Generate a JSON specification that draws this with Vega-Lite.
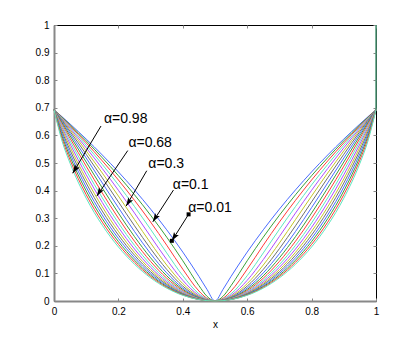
{
"$schema": "https://vega.github.io/schema/vega-lite/v6.json",
"width": 322, "height": 276,
"autosize": {"type": "none"},
"padding": {"left": 54, "top": 25, "right": 39, "bottom": 39},
"background": "#ffffff",
"config": {
 "view": {"stroke": "#000000", "strokeWidth": 1},
 "font": "Liberation Sans",
 "axis": {"labelFont": "Liberation Sans", "labelFontSize": 10, "labelColor": "#000000", "tickColor": "#888888", "grid": false, "domainColor": "#888888", "domainWidth": 2, "labelFlush": false, "labelOverlap": false}
},
"datasets": {
 "c": [
{"k":1,"x":0,"y":0.6931},{"k":1,"x":0.025,"y":0.6676},{"k":1,"x":0.05,"y":0.6413},{"k":1,"x":0.1,"y":0.5867},{"k":1,"x":0.15,"y":0.529},{"k":1,"x":0.2,"y":0.4678},{"k":1,"x":0.25,"y":0.4026},{"k":1,"x":0.3,"y":0.3329},{"k":1,"x":0.35,"y":0.258},{"k":1,"x":0.4,"y":0.1772},{"k":1,"x":0.45,"y":0.0893},{"k":1,"x":0.475,"y":0.0423},{"k":1,"x":0.5,"y":0},{"k":1,"x":0.525,"y":0.0423},{"k":1,"x":0.55,"y":0.0893},{"k":1,"x":0.6,"y":0.1772},{"k":1,"x":0.65,"y":0.258},{"k":1,"x":0.7,"y":0.3329},{"k":1,"x":0.75,"y":0.4026},{"k":1,"x":0.8,"y":0.4678},{"k":1,"x":0.85,"y":0.529},{"k":1,"x":0.9,"y":0.5867},{"k":1,"x":0.95,"y":0.6413},{"k":1,"x":0.975,"y":0.6676},{"k":1,"x":1,"y":0.6931},
{"k":2,"x":0,"y":0.6931},{"k":2,"x":0.025,"y":0.666},{"k":2,"x":0.05,"y":0.6382},{"k":2,"x":0.1,"y":0.5802},{"k":2,"x":0.15,"y":0.519},{"k":2,"x":0.2,"y":0.454},{"k":2,"x":0.25,"y":0.3848},{"k":2,"x":0.3,"y":0.3108},{"k":2,"x":0.35,"y":0.2314},{"k":2,"x":0.4,"y":0.1458},{"k":2,"x":0.45,"y":0.0559},{"k":2,"x":0.475,"y":0.0171},{"k":2,"x":0.5,"y":0},{"k":2,"x":0.525,"y":0.0171},{"k":2,"x":0.55,"y":0.0559},{"k":2,"x":0.6,"y":0.1458},{"k":2,"x":0.65,"y":0.2314},{"k":2,"x":0.7,"y":0.3108},{"k":2,"x":0.75,"y":0.3848},{"k":2,"x":0.8,"y":0.454},{"k":2,"x":0.85,"y":0.519},{"k":2,"x":0.9,"y":0.5802},{"k":2,"x":0.95,"y":0.6382},{"k":2,"x":0.975,"y":0.666},{"k":2,"x":1,"y":0.6931},
{"k":3,"x":0,"y":0.6931},{"k":3,"x":0.025,"y":0.6642},{"k":3,"x":0.05,"y":0.6346},{"k":3,"x":0.1,"y":0.5729},{"k":3,"x":0.15,"y":0.5076},{"k":3,"x":0.2,"y":0.4384},{"k":3,"x":0.25,"y":0.3647},{"k":3,"x":0.3,"y":0.2861},{"k":3,"x":0.35,"y":0.2023},{"k":3,"x":0.4,"y":0.1152},{"k":3,"x":0.45,"y":0.0363},{"k":3,"x":0.475,"y":0.0098},{"k":3,"x":0.5,"y":0},{"k":3,"x":0.525,"y":0.0098},{"k":3,"x":0.55,"y":0.0363},{"k":3,"x":0.6,"y":0.1152},{"k":3,"x":0.65,"y":0.2023},{"k":3,"x":0.7,"y":0.2861},{"k":3,"x":0.75,"y":0.3647},{"k":3,"x":0.8,"y":0.4384},{"k":3,"x":0.85,"y":0.5076},{"k":3,"x":0.9,"y":0.5729},{"k":3,"x":0.95,"y":0.6346},{"k":3,"x":0.975,"y":0.6642},{"k":3,"x":1,"y":0.6931},
{"k":4,"x":0,"y":0.6931},{"k":4,"x":0.025,"y":0.6622},{"k":4,"x":0.05,"y":0.6305},{"k":4,"x":0.1,"y":0.5645},{"k":4,"x":0.15,"y":0.4947},{"k":4,"x":0.2,"y":0.4207},{"k":4,"x":0.25,"y":0.3423},{"k":4,"x":0.3,"y":0.2596},{"k":4,"x":0.35,"y":0.1742},{"k":4,"x":0.4,"y":0.0917},{"k":4,"x":0.45,"y":0.0262},{"k":4,"x":0.5,"y":0},{"k":4,"x":0.55,"y":0.0262},{"k":4,"x":0.6,"y":0.0917},{"k":4,"x":0.65,"y":0.1742},{"k":4,"x":0.7,"y":0.2596},{"k":4,"x":0.75,"y":0.3423},{"k":4,"x":0.8,"y":0.4207},{"k":4,"x":0.85,"y":0.4947},{"k":4,"x":0.9,"y":0.5645},{"k":4,"x":0.95,"y":0.6305},{"k":4,"x":0.975,"y":0.6622},{"k":4,"x":1,"y":0.6931},
{"k":5,"x":0,"y":0.6931},{"k":5,"x":0.025,"y":0.6599},{"k":5,"x":0.05,"y":0.6258},{"k":5,"x":0.1,"y":0.5549},{"k":5,"x":0.15,"y":0.48},{"k":5,"x":0.2,"y":0.4011},{"k":5,"x":0.25,"y":0.3186},{"k":5,"x":0.3,"y":0.2337},{"k":5,"x":0.35,"y":0.1501},{"k":5,"x":0.4,"y":0.0749},{"k":5,"x":0.45,"y":0.0204},{"k":5,"x":0.5,"y":0},{"k":5,"x":0.55,"y":0.0204},{"k":5,"x":0.6,"y":0.0749},{"k":5,"x":0.65,"y":0.1501},{"k":5,"x":0.7,"y":0.2337},{"k":5,"x":0.75,"y":0.3186},{"k":5,"x":0.8,"y":0.4011},{"k":5,"x":0.85,"y":0.48},{"k":5,"x":0.9,"y":0.5549},{"k":5,"x":0.95,"y":0.6258},{"k":5,"x":0.975,"y":0.6599},{"k":5,"x":1,"y":0.6931},
{"k":6,"x":0,"y":0.6931},{"k":6,"x":0.025,"y":0.6572},{"k":6,"x":0.05,"y":0.6204},{"k":6,"x":0.1,"y":0.5439},{"k":6,"x":0.15,"y":0.4637},{"k":6,"x":0.2,"y":0.3803},{"k":6,"x":0.25,"y":0.295},{"k":6,"x":0.3,"y":0.2101},{"k":6,"x":0.35,"y":0.1304},{"k":6,"x":0.4,"y":0.0629},{"k":6,"x":0.45,"y":0.0166},{"k":6,"x":0.5,"y":0},{"k":6,"x":0.55,"y":0.0166},{"k":6,"x":0.6,"y":0.0629},{"k":6,"x":0.65,"y":0.1304},{"k":6,"x":0.7,"y":0.2101},{"k":6,"x":0.75,"y":0.295},{"k":6,"x":0.8,"y":0.3803},{"k":6,"x":0.85,"y":0.4637},{"k":6,"x":0.9,"y":0.5439},{"k":6,"x":0.95,"y":0.6204},{"k":6,"x":0.975,"y":0.6572},{"k":6,"x":1,"y":0.6931},
{"k":7,"x":0,"y":0.6931},{"k":7,"x":0.025,"y":0.6541},{"k":7,"x":0.05,"y":0.6141},{"k":7,"x":0.1,"y":0.5315},{"k":7,"x":0.15,"y":0.4462},{"k":7,"x":0.2,"y":0.3591},{"k":7,"x":0.25,"y":0.2725},{"k":7,"x":0.3,"y":0.1895},{"k":7,"x":0.35,"y":0.1146},{"k":7,"x":0.4,"y":0.054},{"k":7,"x":0.45,"y":0.014},{"k":7,"x":0.5,"y":0},{"k":7,"x":0.55,"y":0.014},{"k":7,"x":0.6,"y":0.054},{"k":7,"x":0.65,"y":0.1146},{"k":7,"x":0.7,"y":0.1895},{"k":7,"x":0.75,"y":0.2725},{"k":7,"x":0.8,"y":0.3591},{"k":7,"x":0.85,"y":0.4462},{"k":7,"x":0.9,"y":0.5315},{"k":7,"x":0.95,"y":0.6141},{"k":7,"x":0.975,"y":0.6541},{"k":7,"x":1,"y":0.6931},
{"k":8,"x":0,"y":0.6931},{"k":8,"x":0.025,"y":0.6504},{"k":8,"x":0.05,"y":0.6068},{"k":8,"x":0.1,"y":0.518},{"k":8,"x":0.15,"y":0.4279},{"k":8,"x":0.2,"y":0.3384},{"k":8,"x":0.25,"y":0.2519},{"k":8,"x":0.3,"y":0.1716},{"k":8,"x":0.35,"y":0.1019},{"k":8,"x":0.4,"y":0.0472},{"k":8,"x":0.45,"y":0.0121},{"k":8,"x":0.5,"y":0},{"k":8,"x":0.55,"y":0.0121},{"k":8,"x":0.6,"y":0.0472},{"k":8,"x":0.65,"y":0.1019},{"k":8,"x":0.7,"y":0.1716},{"k":8,"x":0.75,"y":0.2519},{"k":8,"x":0.8,"y":0.3384},{"k":8,"x":0.85,"y":0.4279},{"k":8,"x":0.9,"y":0.518},{"k":8,"x":0.95,"y":0.6068},{"k":8,"x":0.975,"y":0.6504},{"k":8,"x":1,"y":0.6931},
{"k":9,"x":0,"y":0.6931},{"k":9,"x":0.025,"y":0.646},{"k":9,"x":0.05,"y":0.5986},{"k":9,"x":0.1,"y":0.5035},{"k":9,"x":0.15,"y":0.4095},{"k":9,"x":0.2,"y":0.3186},{"k":9,"x":0.25,"y":0.2332},{"k":9,"x":0.3,"y":0.1564},{"k":9,"x":0.35,"y":0.0914},{"k":9,"x":0.4,"y":0.0419},{"k":9,"x":0.45,"y":0.0107},{"k":9,"x":0.5,"y":0},{"k":9,"x":0.55,"y":0.0107},{"k":9,"x":0.6,"y":0.0419},{"k":9,"x":0.65,"y":0.0914},{"k":9,"x":0.7,"y":0.1564},{"k":9,"x":0.75,"y":0.2332},{"k":9,"x":0.8,"y":0.3186},{"k":9,"x":0.85,"y":0.4095},{"k":9,"x":0.9,"y":0.5035},{"k":9,"x":0.95,"y":0.5986},{"k":9,"x":0.975,"y":0.646},{"k":9,"x":1,"y":0.6931},
{"k":10,"x":0,"y":0.6931},{"k":10,"x":0.025,"y":0.641},{"k":10,"x":0.05,"y":0.5894},{"k":10,"x":0.1,"y":0.4884},{"k":10,"x":0.15,"y":0.3913},{"k":10,"x":0.2,"y":0.3},{"k":10,"x":0.25,"y":0.2165},{"k":10,"x":0.3,"y":0.1433},{"k":10,"x":0.35,"y":0.0828},{"k":10,"x":0.4,"y":0.0376},{"k":10,"x":0.45,"y":0.0095},{"k":10,"x":0.5,"y":0},{"k":10,"x":0.55,"y":0.0095},{"k":10,"x":0.6,"y":0.0376},{"k":10,"x":0.65,"y":0.0828},{"k":10,"x":0.7,"y":0.1433},{"k":10,"x":0.75,"y":0.2165},{"k":10,"x":0.8,"y":0.3},{"k":10,"x":0.85,"y":0.3913},{"k":10,"x":0.9,"y":0.4884},{"k":10,"x":0.95,"y":0.5894},{"k":10,"x":0.975,"y":0.641},{"k":10,"x":1,"y":0.6931},
{"k":11,"x":0,"y":0.6931},{"k":11,"x":0.025,"y":0.6353},{"k":11,"x":0.05,"y":0.5795},{"k":11,"x":0.1,"y":0.4731},{"k":11,"x":0.15,"y":0.3737},{"k":11,"x":0.2,"y":0.2827},{"k":11,"x":0.25,"y":0.2016},{"k":11,"x":0.3,"y":0.132},{"k":11,"x":0.35,"y":0.0756},{"k":11,"x":0.4,"y":0.0341},{"k":11,"x":0.45,"y":0.0086},{"k":11,"x":0.5,"y":0},{"k":11,"x":0.55,"y":0.0086},{"k":11,"x":0.6,"y":0.0341},{"k":11,"x":0.65,"y":0.0756},{"k":11,"x":0.7,"y":0.132},{"k":11,"x":0.75,"y":0.2016},{"k":11,"x":0.8,"y":0.2827},{"k":11,"x":0.85,"y":0.3737},{"k":11,"x":0.9,"y":0.4731},{"k":11,"x":0.95,"y":0.5795},{"k":11,"x":0.975,"y":0.6353},{"k":11,"x":1,"y":0.6931},
{"k":12,"x":0,"y":0.6931},{"k":12,"x":0.025,"y":0.6289},{"k":12,"x":0.05,"y":0.5689},{"k":12,"x":0.1,"y":0.4576},{"k":12,"x":0.15,"y":0.3569},{"k":12,"x":0.2,"y":0.2668},{"k":12,"x":0.25,"y":0.1883},{"k":12,"x":0.3,"y":0.1222},{"k":12,"x":0.35,"y":0.0695},{"k":12,"x":0.4,"y":0.0312},{"k":12,"x":0.45,"y":0.0078},{"k":12,"x":0.5,"y":0},{"k":12,"x":0.55,"y":0.0078},{"k":12,"x":0.6,"y":0.0312},{"k":12,"x":0.65,"y":0.0695},{"k":12,"x":0.7,"y":0.1222},{"k":12,"x":0.75,"y":0.1883},{"k":12,"x":0.8,"y":0.2668},{"k":12,"x":0.85,"y":0.3569},{"k":12,"x":0.9,"y":0.4576},{"k":12,"x":0.95,"y":0.5689},{"k":12,"x":0.975,"y":0.6289},{"k":12,"x":1,"y":0.6931},
{"k":13,"x":0,"y":0.6931},{"k":13,"x":0.025,"y":0.6219},{"k":13,"x":0.05,"y":0.5578},{"k":13,"x":0.1,"y":0.4423},{"k":13,"x":0.15,"y":0.3409},{"k":13,"x":0.2,"y":0.2523},{"k":13,"x":0.25,"y":0.1765},{"k":13,"x":0.3,"y":0.1137},{"k":13,"x":0.35,"y":0.0643},{"k":13,"x":0.4,"y":0.0287},{"k":13,"x":0.45,"y":0.0072},{"k":13,"x":0.5,"y":0},{"k":13,"x":0.55,"y":0.0072},{"k":13,"x":0.6,"y":0.0287},{"k":13,"x":0.65,"y":0.0643},{"k":13,"x":0.7,"y":0.1137},{"k":13,"x":0.75,"y":0.1765},{"k":13,"x":0.8,"y":0.2523},{"k":13,"x":0.85,"y":0.3409},{"k":13,"x":0.9,"y":0.4423},{"k":13,"x":0.95,"y":0.5578},{"k":13,"x":0.975,"y":0.6219},{"k":13,"x":1,"y":0.6931},
{"k":14,"x":0,"y":0.6931},{"k":14,"x":0.025,"y":0.6142},{"k":14,"x":0.05,"y":0.5462},{"k":14,"x":0.1,"y":0.4274},{"k":14,"x":0.15,"y":0.3258},{"k":14,"x":0.2,"y":0.2389},{"k":14,"x":0.25,"y":0.1659},{"k":14,"x":0.3,"y":0.1062},{"k":14,"x":0.35,"y":0.0598},{"k":14,"x":0.4,"y":0.0266},{"k":14,"x":0.45,"y":0.0067},{"k":14,"x":0.5,"y":0},{"k":14,"x":0.55,"y":0.0067},{"k":14,"x":0.6,"y":0.0266},{"k":14,"x":0.65,"y":0.0598},{"k":14,"x":0.7,"y":0.1062},{"k":14,"x":0.75,"y":0.1659},{"k":14,"x":0.8,"y":0.2389},{"k":14,"x":0.85,"y":0.3258},{"k":14,"x":0.9,"y":0.4274},{"k":14,"x":0.95,"y":0.5462},{"k":14,"x":0.975,"y":0.6142},{"k":14,"x":1,"y":0.6931},
{"k":15,"x":0,"y":0.6931},{"k":15,"x":0.025,"y":0.6061},{"k":15,"x":0.05,"y":0.5344},{"k":15,"x":0.1,"y":0.4129},{"k":15,"x":0.15,"y":0.3116},{"k":15,"x":0.2,"y":0.2268},{"k":15,"x":0.25,"y":0.1565},{"k":15,"x":0.3,"y":0.0997},{"k":15,"x":0.35,"y":0.0558},{"k":15,"x":0.4,"y":0.0248},{"k":15,"x":0.45,"y":0.0062},{"k":15,"x":0.5,"y":0},{"k":15,"x":0.55,"y":0.0062},{"k":15,"x":0.6,"y":0.0248},{"k":15,"x":0.65,"y":0.0558},{"k":15,"x":0.7,"y":0.0997},{"k":15,"x":0.75,"y":0.1565},{"k":15,"x":0.8,"y":0.2268},{"k":15,"x":0.85,"y":0.3116},{"k":15,"x":0.9,"y":0.4129},{"k":15,"x":0.95,"y":0.5344},{"k":15,"x":0.975,"y":0.6061},{"k":15,"x":1,"y":0.6931},
{"k":16,"x":0,"y":0.6931},{"k":16,"x":0.025,"y":0.5975},{"k":16,"x":0.05,"y":0.5225},{"k":16,"x":0.1,"y":0.3988},{"k":16,"x":0.15,"y":0.2984},{"k":16,"x":0.2,"y":0.2155},{"k":16,"x":0.25,"y":0.1479},{"k":16,"x":0.3,"y":0.0937},{"k":16,"x":0.35,"y":0.0524},{"k":16,"x":0.4,"y":0.0233},{"k":16,"x":0.45,"y":0.0058},{"k":16,"x":0.5,"y":0},{"k":16,"x":0.55,"y":0.0058},{"k":16,"x":0.6,"y":0.0233},{"k":16,"x":0.65,"y":0.0524},{"k":16,"x":0.7,"y":0.0937},{"k":16,"x":0.75,"y":0.1479},{"k":16,"x":0.8,"y":0.2155},{"k":16,"x":0.85,"y":0.2984},{"k":16,"x":0.9,"y":0.3988},{"k":16,"x":0.95,"y":0.5225},{"k":16,"x":0.975,"y":0.5975},{"k":16,"x":1,"y":0.6931},
{"k":17,"x":0,"y":0.6931},{"k":17,"x":0.025,"y":0.5887},{"k":17,"x":0.05,"y":0.5106},{"k":17,"x":0.1,"y":0.3852},{"k":17,"x":0.15,"y":0.2856},{"k":17,"x":0.2,"y":0.2052},{"k":17,"x":0.25,"y":0.1403},{"k":17,"x":0.3,"y":0.0885},{"k":17,"x":0.35,"y":0.0493},{"k":17,"x":0.4,"y":0.0219},{"k":17,"x":0.45,"y":0.0055},{"k":17,"x":0.5,"y":0},{"k":17,"x":0.55,"y":0.0055},{"k":17,"x":0.6,"y":0.0219},{"k":17,"x":0.65,"y":0.0493},{"k":17,"x":0.7,"y":0.0885},{"k":17,"x":0.75,"y":0.1403},{"k":17,"x":0.8,"y":0.2052},{"k":17,"x":0.85,"y":0.2856},{"k":17,"x":0.9,"y":0.3852},{"k":17,"x":0.95,"y":0.5106},{"k":17,"x":0.975,"y":0.5887},{"k":17,"x":1,"y":0.6931},
{"k":18,"x":0,"y":0.6931},{"k":18,"x":0.025,"y":0.5796},{"k":18,"x":0.05,"y":0.4988},{"k":18,"x":0.1,"y":0.3725},{"k":18,"x":0.15,"y":0.2744},{"k":18,"x":0.2,"y":0.1959},{"k":18,"x":0.25,"y":0.1331},{"k":18,"x":0.3,"y":0.0838},{"k":18,"x":0.35,"y":0.0466},{"k":18,"x":0.4,"y":0.0205},{"k":18,"x":0.45,"y":0.0051},{"k":18,"x":0.5,"y":0},{"k":18,"x":0.55,"y":0.0051},{"k":18,"x":0.6,"y":0.0205},{"k":18,"x":0.65,"y":0.0466},{"k":18,"x":0.7,"y":0.0838},{"k":18,"x":0.75,"y":0.1331},{"k":18,"x":0.8,"y":0.1959},{"k":18,"x":0.85,"y":0.2744},{"k":18,"x":0.9,"y":0.3725},{"k":18,"x":0.95,"y":0.4988},{"k":18,"x":0.975,"y":0.5796},{"k":18,"x":1,"y":0.6931}
 ],
 "edge": [{"x":1,"y":0.6931,"y2":1}],
 "arr": [
  {"x":0.146,"y":0.634,"x2":0.058,"y2":0.463},
  {"x":0.229,"y":0.545,"x2":0.133,"y2":0.380},
  {"x":0.288,"y":0.472,"x2":0.224,"y2":0.344},
  {"x":0.371,"y":0.402,"x2":0.307,"y2":0.287},
  {"x":0.418,"y":0.314,"x2":0.366,"y2":0.218}
 ],
 "sq": [{"x":0.418,"y":0.314},{"x":0.366,"y":0.218}],
 "lab": [
  {"t":"α=0.98","x":0.155,"y":0.646},
  {"t":"α=0.68","x":0.231,"y":0.559},
  {"t":"α=0.3","x":0.293,"y":0.481},
  {"t":"α=0.1","x":0.369,"y":0.407},
  {"t":"α=0.01","x":0.417,"y":0.324}
 ]
},
"layer": [
 {
  "data": {"name": "c"},
  "mark": {"type": "line", "strokeWidth": 1, "interpolate": "monotone"},
  "encoding": {
   "x": {"field": "x", "type": "quantitative", "scale": {"domain": [0, 1], "nice": false, "zero": false},
    "axis": {"orient": "bottom", "values": [0, 0.2, 0.4, 0.6, 0.8, 1], "format": "~g", "tickSize": -3, "labelPadding": 8, "title": "x", "titleFont": "Liberation Sans", "titleFontSize": 10, "titleFontWeight": "normal", "titlePadding": 3, "titleColor": "#000000"}},
   "y": {"field": "y", "type": "quantitative", "scale": {"domain": [0, 1], "nice": false, "zero": false},
    "axis": {"orient": "left", "values": [0, 0.1, 0.2, 0.3, 0.4, 0.5, 0.6, 0.7, 0.8, 0.9, 1], "format": "~g", "tickSize": -3, "labelPadding": 8, "title": null}},
   "color": {"field": "k", "type": "nominal", "legend": null,
    "scale": {"domain": [1,2,3,4,5,6,7,8,9,10,11,12,13,14,15,16,17,18],
     "range": ["#4a6cff","#3aa03a","#ff3b3b","#5ce8c0","#b04cff","#c4c42a","#707070","#4a6cff","#3aa03a","#ff3b3b","#5ce8c0","#b04cff","#c4c42a","#707070","#4a6cff","#3aa03a","#ff3b3b","#5ce8c0"]}}
  }
 },
 {
  "data": {"name": "edge"},
  "mark": {"type": "rule", "color": "#4f9a78", "strokeWidth": 1.5},
  "encoding": {
   "x": {"field": "x", "type": "quantitative",
    "axis": {"orient": "top", "values": [0, 0.2, 0.4, 0.6, 0.8, 1], "labels": false, "domain": false, "tickSize": -3, "title": null}},
   "y": {"field": "y", "type": "quantitative",
    "axis": {"orient": "right", "values": [0, 0.1, 0.2, 0.3, 0.4, 0.5, 0.6, 0.7, 0.8, 0.9, 1], "labels": false, "domain": false, "tickSize": -3, "title": null}},
   "y2": {"field": "y2"}
  }
 },
 {
  "data": {"name": "arr"},
  "mark": {"type": "rule", "color": "#000000", "strokeWidth": 1},
  "encoding": {
   "x": {"field": "x", "type": "quantitative", "axis": null},
   "y": {"field": "y", "type": "quantitative", "axis": null},
   "x2": {"field": "x2"},
   "y2": {"field": "y2"}
  }
 },
 {
  "data": {"name": "arr"},
  "mark": {"type": "point", "shape": "M0,0L-0.33,1L0,0.8L0.33,1Z", "filled": true, "color": "#000000", "opacity": 1, "size": 300, "angle": 212, "strokeWidth": 0},
  "encoding": {
   "x": {"field": "x2", "type": "quantitative", "axis": null},
   "y": {"field": "y2", "type": "quantitative", "axis": null}
  }
 },
 {
  "data": {"name": "sq"},
  "mark": {"type": "point", "shape": "square", "filled": true, "color": "#000000", "opacity": 1, "size": 16},
  "encoding": {
   "x": {"field": "x", "type": "quantitative", "axis": null},
   "y": {"field": "y", "type": "quantitative", "axis": null}
  }
 },
 {
  "data": {"name": "lab"},
  "mark": {"type": "text", "align": "left", "baseline": "alphabetic", "font": "Liberation Sans", "fontSize": 14, "color": "#000000"},
  "encoding": {
   "x": {"field": "x", "type": "quantitative", "axis": null},
   "y": {"field": "y", "type": "quantitative", "axis": null},
   "text": {"field": "t"}
  }
 }
],
"resolve": {"axis": {"x": "independent", "y": "independent"}}
}
